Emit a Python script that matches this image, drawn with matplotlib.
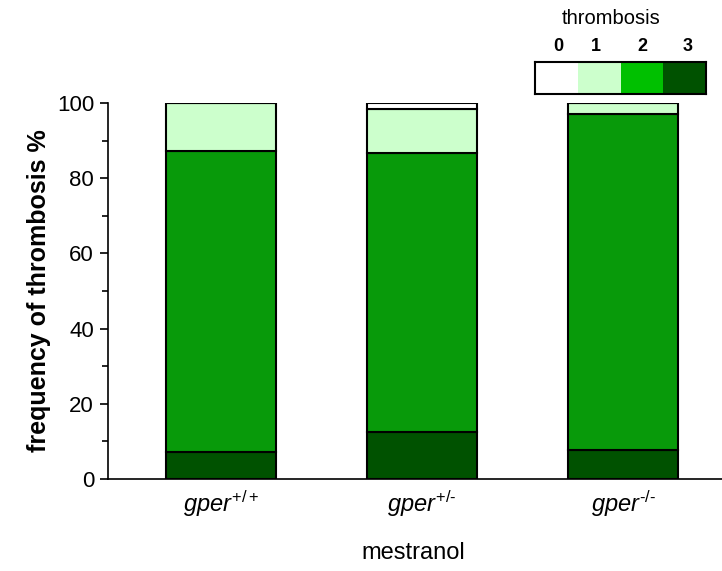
import matplotlib.pyplot as plt
from matplotlib.ticker import MultipleLocator

plt.rcParams["font.family"] = ["Liberation Sans", "DejaVu Sans"]
plt.rcParams["mathtext.fontset"] = "custom"
plt.rcParams["mathtext.it"] = "Liberation Sans:italic"
plt.rcParams["mathtext.rm"] = "Liberation Sans"

genotypes = [r"$\mathit{gper}^{\mathit{+/+}}$", "$\\mathit{gper}^{\\mathit{+/\u2010}}$",
             "$\\mathit{gper}^{\\mathit{\u2010/\u2010}}$"]
# percent of animals per thrombosis score, bottom (3) to top (0)
score3 = [7.2, 12.5, 7.7]
score2 = [80.0, 74.2, 89.4]
score1 = [12.8, 11.6, 2.9]
score0 = [0.0, 1.7, 0.0]

scores = ["0", "1", "2", "3"]
bar_colors = {"3": "#005200", "2": "#089a0a", "1": "#ccffcc", "0": "#ffffff"}
key_colors = ["#ffffff", "#ccffcc", "#00c000", "#005200"]

fig = plt.figure(figsize=(7.22, 5.71), dpi=100)
ax = fig.add_axes([108 / 722, 92 / 571, 614 / 722, 376 / 571])

x = range(len(genotypes))
width = 0.547
bottom = [0.0] * len(genotypes)
for key, vals in [("3", score3), ("2", score2), ("1", score1), ("0", score0)]:
    ax.bar(x, vals, width, bottom=bottom, color=bar_colors[key],
           edgecolor="black", linewidth=1.5, zorder=2)
    bottom = [b + v for b, v in zip(bottom, vals)]

ax.set_xlim(-0.562, 2.49)
ax.set_ylim(0, 100)
ax.spines["top"].set_visible(False)
ax.spines["right"].set_visible(False)
ax.spines["left"].set_linewidth(1.2)
ax.spines["bottom"].set_linewidth(1.2)

ax.set_xticks(list(x))
ax.set_xticklabels(genotypes, fontsize=17)
ax.tick_params(axis="x", length=0, pad=7)
ax.yaxis.set_major_locator(MultipleLocator(20))
ax.yaxis.set_minor_locator(MultipleLocator(10))
ax.tick_params(axis="y", which="major", length=6, width=1.2, labelsize=16, pad=4)
ax.tick_params(axis="y", which="minor", length=4, width=1.2)

ax.set_ylabel("frequency of thrombosis %", fontsize=18, fontweight="bold", labelpad=4)
ax.set_xlabel("mestranol", fontsize=17)
ax.xaxis.set_label_coords((413 - 108) / 614, -(553 - 479) / 376)
ax.xaxis.label.set_va("center")

# colour key for the thrombosis score
kax = fig.add_axes([535 / 722, (571 - 94) / 571, 171 / 722, 32 / 571])
for i, c in enumerate(key_colors):
    kax.barh(0, 1, left=i, height=1, color=c, edgecolor="none")
kax.set_xlim(0, 4)
kax.set_ylim(-0.5, 0.5)
kax.set_xticks([])
kax.set_yticks([])
for s in kax.spines.values():
    s.set_linewidth(1.5)
for xpos, lab in zip([0.54, 1.43, 2.5, 3.58], scores):
    kax.text(xpos, 0.72, lab, ha="center", va="bottom",
             fontsize=13, fontweight="bold")
kax.text(1.78, 1.55, "thrombosis", ha="center", va="bottom", fontsize=14.5)

fig.savefig("out.png", dpi=100)
plt.close(fig)
